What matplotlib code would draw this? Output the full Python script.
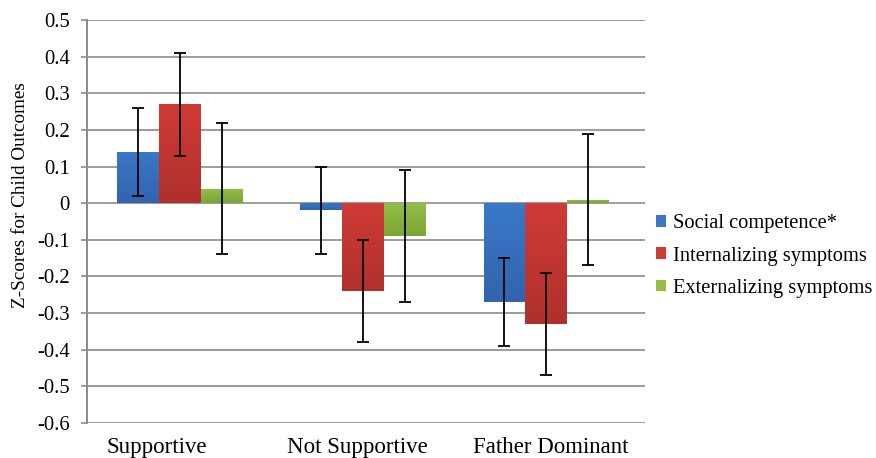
import numpy as np
import matplotlib
matplotlib.use('Agg')
import matplotlib.pyplot as plt
from matplotlib.colors import LinearSegmentedColormap
from matplotlib.transforms import ScaledTranslation

# datos
grupos = ['Supportive', 'Not Supportive', 'Father Dominant']
series = ['Social competence*', 'Internalizing symptoms', 'Externalizing symptoms']
social = [0.14, -0.02, -0.27]
internal = [0.27, -0.24, -0.33]
external = [0.04, -0.09, 0.01]
err_social = [0.12, 0.12, 0.12]
err_internal = [0.14, 0.14, 0.14]
err_external = [0.18, 0.18, 0.18]
yticks = [0.5, 0.4, 0.3, 0.2, 0.1, 0, -0.1, -0.2, -0.3, -0.4, -0.5, -0.6]

valores = [social, internal, external]
errores = [err_social, err_internal, err_external]
colores = ['#3a78c9', '#cf3b36', '#93bf45']
oscuros = ['#2f5fa6', '#a82d2a', '#779f32']

plt.rcParams['font.family'] = ['Liberation Serif', 'DejaVu Serif']

fig = plt.figure(figsize=(8.76, 4.58), dpi=100)
ax = fig.add_axes([0.0993, 0.0764, 0.637, 0.880])

x = np.arange(len(grupos))
ancho = 0.228

for i in range(3):
    pos = x + (i - 1) * ancho
    barras = ax.bar(pos, valores[i], width=ancho, color=colores[i], label=series[i],
                    zorder=3, linewidth=0)
    # degradado vertical dentro de cada barra
    cmap = LinearSegmentedColormap.from_list('g%d' % i, [colores[i], oscuros[i]])
    for b in barras:
        x0, y0 = b.get_x(), b.get_y()
        w, h = b.get_width(), b.get_height()
        grad = np.linspace(0, 1, 64).reshape(-1, 1)
        top, bot = max(y0, y0 + h), min(y0, y0 + h)
        im = ax.imshow(grad, cmap=cmap, aspect='auto', extent=(x0, x0 + w, bot, top),
                       origin='upper', zorder=3.5, vmin=0, vmax=1.25)
        im.set_clip_path(b)
    ax.errorbar(pos, valores[i], yerr=errores[i], fmt='none', ecolor='black',
                elinewidth=1.3, capsize=4, capthick=1.3, zorder=5)

ax.set_xlim(-0.508, 2.54)
ax.set_ylim(-0.6, 0.5)
ax.set_yticks(yticks)
ax.set_yticklabels(['%g' % v for v in yticks])
ax.set_xticks(x)
ax.set_xticklabels(grupos)
ax.tick_params(axis='x', length=0, labelsize=16.5, pad=10)
ax.tick_params(axis='y', direction='out', length=4.5, width=1.2, color='#8a8a8a',
               labelsize=14.9, pad=8)

# en el original las etiquetas no quedan centradas bajo cada grupo
desplaz = [-17, -4, 3]
for lab, dx in zip(ax.get_xticklabels(), desplaz):
    lab.set_transform(lab.get_transform() + ScaledTranslation(dx / 72, 0, fig.dpi_scale_trans))

ax.yaxis.grid(True, color='#9c9c9c', linewidth=1.4, zorder=0)
ax.set_axisbelow(True)
for s in ['top', 'right', 'bottom']:
    ax.spines[s].set_visible(False)
ax.spines['left'].set_color('#8a8a8a')
ax.spines['left'].set_linewidth(1.4)
ax.set_ylabel('Z-Scores for Child Outcomes', fontsize=13.8)
ax.yaxis.set_label_coords(-0.104, 0.566)

leg = fig.legend(loc='center left', bbox_to_anchor=(0.749, 0.441), frameon=False,
                 fontsize=14.8, handlelength=0.5, handleheight=0.5, handletextpad=0.3,
                 labelspacing=0.65, borderpad=0, borderaxespad=0)

fig.savefig('out.png', dpi=100)
